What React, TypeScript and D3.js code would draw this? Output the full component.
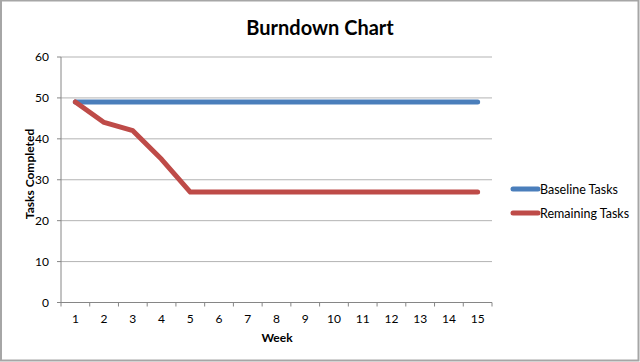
import React from "react";
import * as d3 from "d3";

const weeks = ["1","2","3","4","5","6","7","8","9","10","11","12","13","14","15"];
const baselineTasks = [49,49,49,49,49,49,49,49,49,49,49,49,49,49,49];
const remainingTasks = [49,44,42,35,27,27,27,27,27,27,27,27,27,27,27];
const yTicks = [0,10,20,30,40,50,60];
const seriesNames = ["Baseline Tasks", "Remaining Tasks"];
const seriesColors = ["#4a7ebb", "#be4b48"];

const W = 640, H = 362;
const left = 61, right = 492, top = 57, bottom = 302.5;
const font = "Lato, 'Open Sans', sans-serif";

export default function App() {
  const x = d3.scaleBand<string>().domain(weeks).range([left, right]);
  const y = d3.scaleLinear().domain([0, 60]).range([bottom, top]);
  const cx = (w: string) => (x(w) ?? 0) + x.bandwidth() / 2;
  const line = d3.line<number>().x((_, i) => cx(weeks[i])).y((d) => y(d));
  const series = [baselineTasks, remainingTasks];
  const boundaries = weeks.map((w) => x(w) ?? 0).concat([right]);

  return (
    <div style={{ position: "fixed", left: 0, top: 0 }}>
      <svg width={W} height={H} style={{ display: "block", background: "#fff" }}>
        <rect x={1} y={0.5} width={637.5} height={360} fill="#fff" stroke="#a6a6a6" strokeWidth={2} />
        <text x={320} y={35} textAnchor="middle" fontFamily={font} fontWeight="bold" fontSize={20} fill="#000">
          Burndown Chart
        </text>
        {yTicks.map((t) => (
          <g key={t}>
            {t > 0 && (
              <line x1={left} x2={right} y1={y(t)} y2={y(t)} stroke="#b3b3b3" strokeWidth={1} />
            )}
            <line x1={left - 4} x2={left} y1={y(t)} y2={y(t)} stroke="#868686" strokeWidth={1} />
            <text x={left - 12} y={y(t) + 4} textAnchor="end" fontFamily={font} fontSize={12} fill="#000">
              {t}
            </text>
          </g>
        ))}
        <line x1={left} x2={left} y1={top} y2={bottom} stroke="#868686" strokeWidth={1} />
        <line x1={left} x2={right} y1={bottom} y2={bottom} stroke="#868686" strokeWidth={1} />
        {boundaries.map((b, i) => (
          <line key={i} x1={b} x2={b} y1={bottom} y2={bottom + 4} stroke="#868686" strokeWidth={1} />
        ))}
        {weeks.map((w) => (
          <text key={w} x={cx(w)} y={322.5} textAnchor="middle" fontFamily={font} fontSize={12} fill="#000">
            {w}
          </text>
        ))}
        <text x={277} y={342} textAnchor="middle" fontFamily={font} fontWeight="bold" fontSize={12} fill="#000">
          Week
        </text>
        <text
          transform={`translate(34, 174) rotate(-90)`}
          textAnchor="middle"
          fontFamily={font}
          fontWeight="bold"
          fontSize={12}
          fill="#000"
        >
          Tasks Completed
        </text>
        {series.map((s, i) => (
          <path
            key={i}
            d={line(s) ?? ""}
            fill="none"
            stroke={seriesColors[i]}
            strokeWidth={5}
            strokeLinejoin="round"
            strokeLinecap="round"
          />
        ))}
        {seriesNames.map((n, i) => (
          <g key={n}>
            <line
              x1={513}
              x2={538}
              y1={189 + i * 24}
              y2={189 + i * 24}
              stroke={seriesColors[i]}
              strokeWidth={5}
              strokeLinecap="round"
            />
            <text x={540} y={193.5 + i * 24} fontFamily={font} fontSize={12.5} fill="#000">
              {n}
            </text>
          </g>
        ))}
      </svg>
    </div>
  );
}
